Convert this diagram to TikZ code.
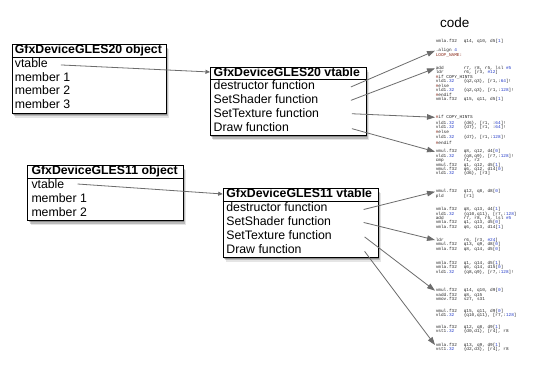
\documentclass[tikz,border=0pt]{standalone}
\usepackage{fontspec}
\setmainfont{Liberation Sans}
\newfontfamily\codefont{Liberation Mono}
\usetikzlibrary{arrows.meta,shadows,calc}
\definecolor{linegray}{HTML}{6C6C6C}
\definecolor{codeblue}{HTML}{2038C8}
\definecolor{codered}{HTML}{8A2A1A}
\newcommand\kwb[1]{\textcolor{codeblue}{#1}}
\newcommand\kwr[1]{\textcolor{codered}{#1}}
\newcommand\codeln[2]{\makebox[28pt][l]{#1}#2}
\begin{document}
\begin{tikzpicture}[x=1pt,y=-1pt,
  frame/.style={draw=black, line width=0.9pt, fill=white, inner sep=0pt, anchor=north west,
    drop shadow={shadow xshift=1pt, shadow yshift=-1.5pt, opacity=0.25, fill=black},
    drop shadow={shadow xshift=2pt, shadow yshift=-3pt, opacity=0.18, fill=black},
    drop shadow={shadow xshift=3pt, shadow yshift=-4.5pt, opacity=0.1, fill=black}},
  sepline/.style={draw=black, line width=0.9pt},
  hdr/.style={inner sep=0pt, anchor=west, text height=9pt, text depth=2.5pt,
    font=\fontsize{12.3}{14}\selectfont\bfseries},
  rowtext/.style={inner sep=0pt, anchor=west, text height=9pt, text depth=2.5pt,
    font=\fontsize{12.3}{14}\selectfont},
  code/.style={inner sep=0.6pt, anchor=west, text=black!85,
    font=\codefont\fontsize{4.4}{4.4}\selectfont},
  vt/.style={draw=linegray, line width=0.8pt, -{Triangle[length=4.5pt,width=4pt]}},
  fn/.style={draw=linegray, line width=0.8pt, -{Triangle[length=8pt,width=5.5pt]}}
]
\useasboundingbox[fill=white] (0,0) rectangle (535,371);

% ---- GLES20 object
\node[frame, minimum width=154pt, minimum height=68.1pt] (A) at (11.7,44.5) {};
\draw[sepline] ($(A.north west)+(0,12.5)$) -- ($(A.north east)+(0,12.5)$);
\node[hdr] (Ah) at ($(A.north west)+(3,6.25)$) {GfxDeviceGLES20 object};
\node[rowtext] (Av) at ($(A.north west)+(3,19.45)$) {vtable};
\node[rowtext] (A1) at ($(A.north west)+(3,33.35)$) {member 1};
\node[rowtext] (A2) at ($(A.north west)+(3,47.25)$) {member 2};
\node[rowtext] (A3) at ($(A.north west)+(3,61.15)$) {member 3};

% ---- GLES20 vtable
\node[frame, minimum width=156pt, minimum height=68.1pt] (B) at (210,67) {};
\draw[sepline] ($(B.north west)+(0,12.5)$) -- ($(B.north east)+(0,12.5)$);
\node[hdr] (Bh) at ($(B.north west)+(3.5,6.25)$) {GfxDeviceGLES20 vtable};
\node[rowtext] (Bd) at ($(B.north west)+(3.5,19.45)$) {destructor function};
\node[rowtext] (Bs) at ($(B.north west)+(3.5,33.35)$) {SetShader function};
\node[rowtext] (Bt) at ($(B.north west)+(3.5,47.25)$) {SetTexture function};
\node[rowtext] (Bw) at ($(B.north west)+(3.5,61.15)$) {Draw function};

% ---- GLES11 object
\node[frame, minimum width=155.5pt, minimum height=54.6pt] (C) at (27.3,165.5) {};
\draw[sepline] ($(C.north west)+(0,12.5)$) -- ($(C.north east)+(0,12.5)$);
\node[hdr] (Ch) at ($(C.north west)+(4,6.25)$) {GfxDeviceGLES11 object};
\node[rowtext] (Cv) at ($(C.north west)+(4,19.5)$) {vtable};
\node[rowtext] (C1) at ($(C.north west)+(4,33.55)$) {member 1};
\node[rowtext] (C2) at ($(C.north west)+(4,47.6)$) {member 2};

% ---- GLES11 vtable
\node[frame, minimum width=155pt, minimum height=68.3pt] (D) at (222.7,188.5) {};
\draw[sepline] ($(D.north west)+(0,12.5)$) -- ($(D.north east)+(0,12.5)$);
\node[hdr] (Dh) at ($(D.north west)+(3.5,6.25)$) {GfxDeviceGLES11 vtable};
\node[rowtext] (Dd) at ($(D.north west)+(3.5,19.5)$) {destructor function};
\node[rowtext] (Ds) at ($(D.north west)+(3.5,33.45)$) {SetShader function};
\node[rowtext] (Dt) at ($(D.north west)+(3.5,47.4)$) {SetTexture function};
\node[rowtext] (Dw) at ($(D.north west)+(3.5,61.35)$) {Draw function};

% ---- code column
\node[anchor=base west, inner sep=0pt, font=\fontsize{13.5}{14}\selectfont] (title) at (440,27.5) {code};
\node[code] (c01) at (435,41) {\codeln{vmla.f32}{q14, q10, d5[\kwb{1}]}};
\node[code] (c02) at (435,50.7) {.align \kwb{4}};
\node[code] (c03) at (435,55) {\kwr{LOOP\_NAME:}};
\node[code] (c04) at (435,68.3) {\codeln{add}{r7, r8, r5, lsl \kwb{\#5}}};
\node[code] (c05) at (435,72.7) {\codeln{ldr}{r6, [r3, \kwb{\#12}]}};
\node[code] (c06) at (435,77.2) {\kwr{\#}if COPY\_HINTS};
\node[code] (c07) at (435,81.6) {\codeln{vld1\kwb{.32}}{\{q2,q3\}, [r1,:\kwb{64}]!}};
\node[code] (c08) at (435,86) {\kwr{\#}else};
\node[code] (c09) at (435,90.4) {\codeln{vld1\kwb{.32}}{\{q2,q3\}, [r1,:\kwb{128}]!}};
\node[code] (c10) at (435,94.8) {\kwr{\#}endif};
\node[code] (c11) at (435,99.2) {\codeln{vmla.f32}{q15, q11, d5[\kwb{1}]}};
\node[code] (c12) at (435,117.3) {\kwr{\#}if COPY\_HINTS};
\node[code] (c13) at (435,123.3) {\codeln{vld1\kwb{.32}}{\{d6\}, [r1, :\kwb{64}]!}};
\node[code] (c14) at (435,127.7) {\codeln{vld1\kwb{.32}}{\{d7\}, [r1, :\kwb{64}]!}};
\node[code] (c15) at (435,132.1) {\kwr{\#}else};
\node[code] (c16) at (435,137.8) {\codeln{vld1\kwb{.32}}{\{d7\}, [r1,:\kwb{128}]!}};
\node[code] (c17) at (435,142.5) {\kwr{\#}endif};
\node[code] (c18) at (435,151.7) {\codeln{vmul.f32}{q8, q12, d4[\kwb{0}]}};
\node[code] (c19) at (435,156) {\codeln{vld1\kwb{.32}}{\{q8,q9\}, [r7,:\kwb{128}]!}};
\node[code] (c20) at (435,160.5) {\codeln{cmp}{r1, r2}};
\node[code] (c21) at (435,165) {\codeln{vmul.f32}{q1, q12, d5[\kwb{1}]}};
\node[code] (c22) at (435,169.3) {\codeln{vmul.f32}{q6, q12, d14[\kwb{0}]}};
\node[code] (c23) at (435,173.7) {\codeln{vld1\kwb{.32}}{\{d6\}, [r3]}};
\node[code] (c24) at (435,191.7) {\codeln{vmul.f32}{q12, q8, d8[\kwb{0}]}};
\node[code] (c25) at (435,196) {\codeln{pld}{[r1]}};
\node[code] (c26) at (435,209.3) {\codeln{vmla.f32}{q8, q13, d4[\kwb{1}]}};
\node[code] (c27) at (435,214) {\codeln{vld1\kwb{.32}}{\{q10,q11\}, [r7,:\kwb{128}]}};
\node[code] (c28) at (435,218.3) {\codeln{add}{r7, r8, r5, lsl \kwb{\#5}}};
\node[code] (c29) at (435,222.7) {\codeln{vmla.f32}{q1, q13, d5[\kwb{0}]}};
\node[code] (c30) at (435,227.3) {\codeln{vmla.f32}{q6, q13, d14[\kwb{1}]}};
\node[code] (c31) at (435,240) {\codeln{ldr}{r6, [r3, \kwb{\#24}]}};
\node[code] (c32) at (435,244.5) {\codeln{vmul.f32}{q13, q9, d8[\kwb{0}]}};
\node[code] (c33) at (435,249.5) {\codeln{vmla.f32}{q8, q14, d5[\kwb{0}]}};
\node[code] (c34) at (435,263.3) {\codeln{vmla.f32}{q1, q14, d5[\kwb{1}]}};
\node[code] (c35) at (435,267.7) {\codeln{vmla.f32}{q6, q14, d15[\kwb{0}]}};
\node[code] (c36) at (435,272) {\codeln{vld1\kwb{.32}}{\{q8,q9\}, [r7,:\kwb{128}]!}};
\node[code] (c37) at (435,290.7) {\codeln{vmul.f32}{q14, q10, d9[\kwb{0}]}};
\node[code] (c38) at (435,295) {\codeln{vadd.f32}{q8, q15}};
\node[code] (c39) at (435,299.3) {\codeln{vmov.f32}{s27, s31}};
\node[code] (c40) at (435,311) {\codeln{vmul.f32}{q15, q11, d9[\kwb{0}]}};
\node[code] (c41) at (435,315.3) {\codeln{vld1\kwb{.32}}{\{q10,q11\}, [r7,:\kwb{128}]}};
\node[code] (c42) at (435,327.3) {\codeln{vmla.f32}{q12, q8, d9[\kwb{1}]}};
\node[code] (c43) at (435,331.7) {\codeln{vst1\kwb{.32}}{\{d0,d1\}, [r4], r8}};
\node[code] (c44) at (435,345) {\codeln{vmla.f32}{q13, q9, d9[\kwb{1}]}};
\node[code] (c45) at (435,349.3) {\codeln{vst1\kwb{.32}}{\{d2,d3\}, [r4], r8}};

% ---- connector ends
\coordinate (Avo) at ($(Av.east)+(13,1)$);
\coordinate (Cvo) at ($(Cv.east)+(13,-1)$);
\coordinate (Bin) at ($(B.north west)+(0,5)$);
\coordinate (Din) at ($(D.north west)+(0,5.5)$);
\coordinate (Bdo) at ($(B.east |- Bd.west)+(-16,0.5)$);
\coordinate (Bso) at ($(B.east |- Bs.west)+(-16,0)$);
\coordinate (Bto) at ($(B.east |- Bt.west)+(-15,-0.5)$);
\coordinate (Bwo) at ($(B.east |- Bw.west)+(-15,0.5)$);
\coordinate (Ddo) at ($(D.east |- Dd.west)+(-15,1.5)$);
\coordinate (Dso) at ($(D.east |- Ds.west)+(-15,0.5)$);
\coordinate (Dto) at ($(D.east |- Dt.west)+(-14,1)$);
\coordinate (Dwo) at ($(D.east |- Dw.west)+(-14,1.5)$);

% ---- connectors
\draw[vt] (Avo) -- (Bin);
\draw[vt] (Cvo) -- (Din);
\draw[fn] (Bdo) -- (c02.west);
\draw[fn] (Bso) -- (c04.west);
\draw[fn] (Bto) -- (c12.west);
\draw[fn] (Bwo) -- (c18.west);
\draw[fn] (Ddo) -- (c24.west);
\draw[fn] (Dso) -- (c31.west);
\draw[fn] (Dto) -- (c37.west);
\draw[fn] (Dwo) -- (c44.west);
\end{tikzpicture}
\end{document}
